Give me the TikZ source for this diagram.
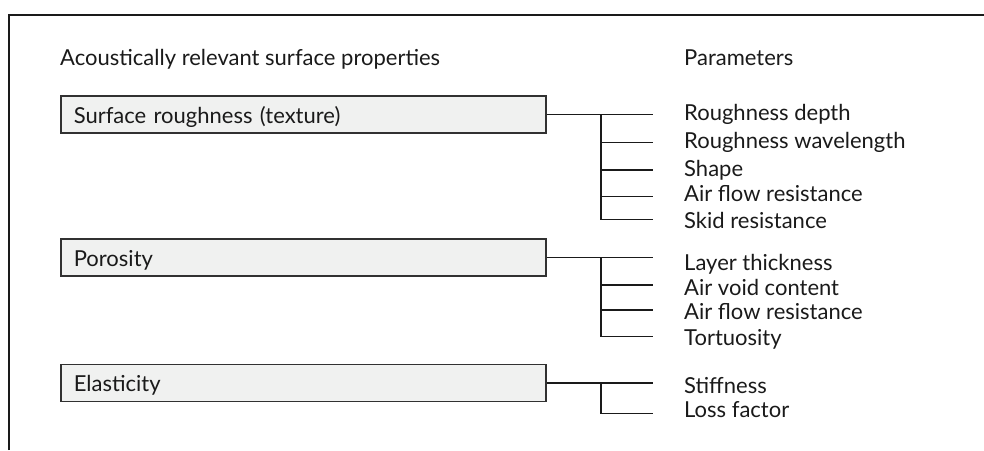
\documentclass[tikz,border=0pt]{standalone}
\usepackage{fontspec}
\setmainfont{Lato}
\definecolor{boxfill}{HTML}{F0F1F0}
\definecolor{ink}{HTML}{1A1A1A}
\begin{document}
\begin{tikzpicture}[x=1pt,y=-1pt,
  every node/.style={font=\fontsize{22}{26}\selectfont, text=ink},
  prop/.style={draw=ink!90, fill=boxfill, line width=1.6pt, anchor=west,
    minimum width=485pt, minimum height=37pt, text width=459pt,
    inner xsep=13pt, inner ysep=0pt, align=left,
    text height=22pt, text depth=5pt},
  param/.style={anchor=base west, inner sep=0pt},
  head/.style={anchor=base west, inner sep=0pt},
  conn/.style={draw=ink, line width=1.5pt},
  frame/.style={draw=ink, line width=2pt}]
\useasboundingbox (0,0) rectangle (984,450);

% open frame: top and left edges
\coordinate (fl) at (9,450);
\coordinate (fc) at (9,15);
\coordinate (fr) at (984,15);
\draw[frame] (fl) -- (fc) -- (fr);

% column headings
\node[head] (hprop) at (60,65) {Acoustically relevant surface properties};
\node[head] (hpar)  at (684,65) {Parameters};

% property boxes
\node[prop] (b1) at (60,114.5) {Surface roughness (texture)};
\node[prop] (b2) at (60,257.5) {Porosity};
\node[prop] (b3) at (60,383)   {Elasticity};

% parameters of surface roughness
\node[param] (p11) at (684,120)   {Roughness depth};
\node[param] (p12) at (684,148.3) {Roughness wavelength};
\node[param] (p13) at (684,176)   {Shape};
\node[param] (p14) at (684,201.7) {Air flow resistance};
\node[param] (p15) at (684,228)   {Skid resistance};

% parameters of porosity
\node[param] (p21) at (684,270)   {Layer thickness};
\node[param] (p22) at (684,295)   {Air void content};
\node[param] (p23) at (684,319.5) {Air flow resistance};
\node[param] (p24) at (684,345)   {Tortuosity};

% parameters of elasticity
\node[param] (p31) at (684,393.3) {Stiffness};
\node[param] (p32) at (684,417)   {Loss factor};

% branch junctions and line ends
\coordinate (j1) at (601,114.5);
\coordinate (e12) at (653.3,142.3);
\coordinate (e13) at (653.3,170);
\coordinate (e14) at (653.3,196.7);
\coordinate (e15) at (653.3,219.3);

\coordinate (j2) at (601,257.5);
\coordinate (e22) at (653.3,285);
\coordinate (e23) at (653.3,310);
\coordinate (e24) at (653.3,336.7);

\coordinate (j3) at (601,383);
\coordinate (e32) at (653.3,413.3);

% connectors
\draw[conn] (b1.east) -- (b1.east -| e12);
\draw[conn] (j1) |- (e15);
\foreach \e in {e12,e13,e14} \draw[conn] (j1 |- \e) -- (\e);

\draw[conn] (b2.east) -- (b2.east -| e22);
\draw[conn] (j2) |- (e24);
\foreach \e in {e22,e23} \draw[conn] (j2 |- \e) -- (\e);

\draw[conn] (b3.east) -- (b3.east -| e32);
\draw[conn] (j3) |- (e32);
\end{tikzpicture}
\end{document}
